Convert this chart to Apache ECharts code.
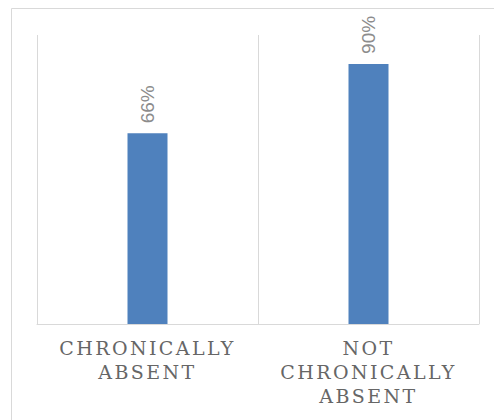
<!DOCTYPE html>
<html>
<head>
<meta charset="utf-8">
<script src="https://cdn.jsdelivr.net/npm/echarts@6/dist/echarts.min.js"></script>
<style>
  html, body { margin: 0; padding: 0; background: #fff; }
  #chart { width: 494px; height: 420px; }
  #chart text[style*="Serif"] { letter-spacing: 2.4px; }
</style>
</head>
<body>
<div id="chart"></div>
<script>
const categories = ['CHRONICALLY\nABSENT', 'NOT\nCHRONICALLY\nABSENT'];
const values = [66, 90];

const chart = echarts.init(document.getElementById('chart'), null, { renderer: 'svg' });
chart.setOption({
  animation: false,
  backgroundColor: '#ffffff',
  graphic: [{
    type: 'rect',
    shape: { x: 11.5, y: 8.5, width: 700, height: 700 },
    style: { fill: 'none', stroke: '#d9d9d9', lineWidth: 1 },
    silent: true
  }],
  grid: { left: 37, right: 15, top: 35, bottom: 96, containLabel: false },
  xAxis: {
    type: 'category',
    data: categories,
    boundaryGap: true,
    axisLine: { show: true, lineStyle: { color: '#d9d9d9', width: 1 } },
    axisTick: { show: false },
    splitLine: { show: true, lineStyle: { color: '#d9d9d9', width: 1 } },
    axisLabel: {
      interval: 0,
      margin: 12,
      color: '#666666',
      fontFamily: '"DejaVu Serif", serif',
      fontSize: 19,
      lineHeight: 24,
      align: 'center'
    }
  },
  yAxis: {
    type: 'value',
    min: 0,
    max: 100,
    show: false,
    splitLine: { show: false }
  },
  series: [{
    type: 'bar',
    data: values,
    barWidth: 40,
    itemStyle: { color: '#4f81bd' },
    label: {
      show: true,
      position: 'top',
      distance: 10,
      rotate: 90,
      align: 'left',
      verticalAlign: 'middle',
      formatter: p => p.value + '%',
      color: '#8c8c8c',
      fontFamily: '"Liberation Sans", Arial, sans-serif',
      fontSize: 19
    }
  }]
});
</script>
</body>
</html>
